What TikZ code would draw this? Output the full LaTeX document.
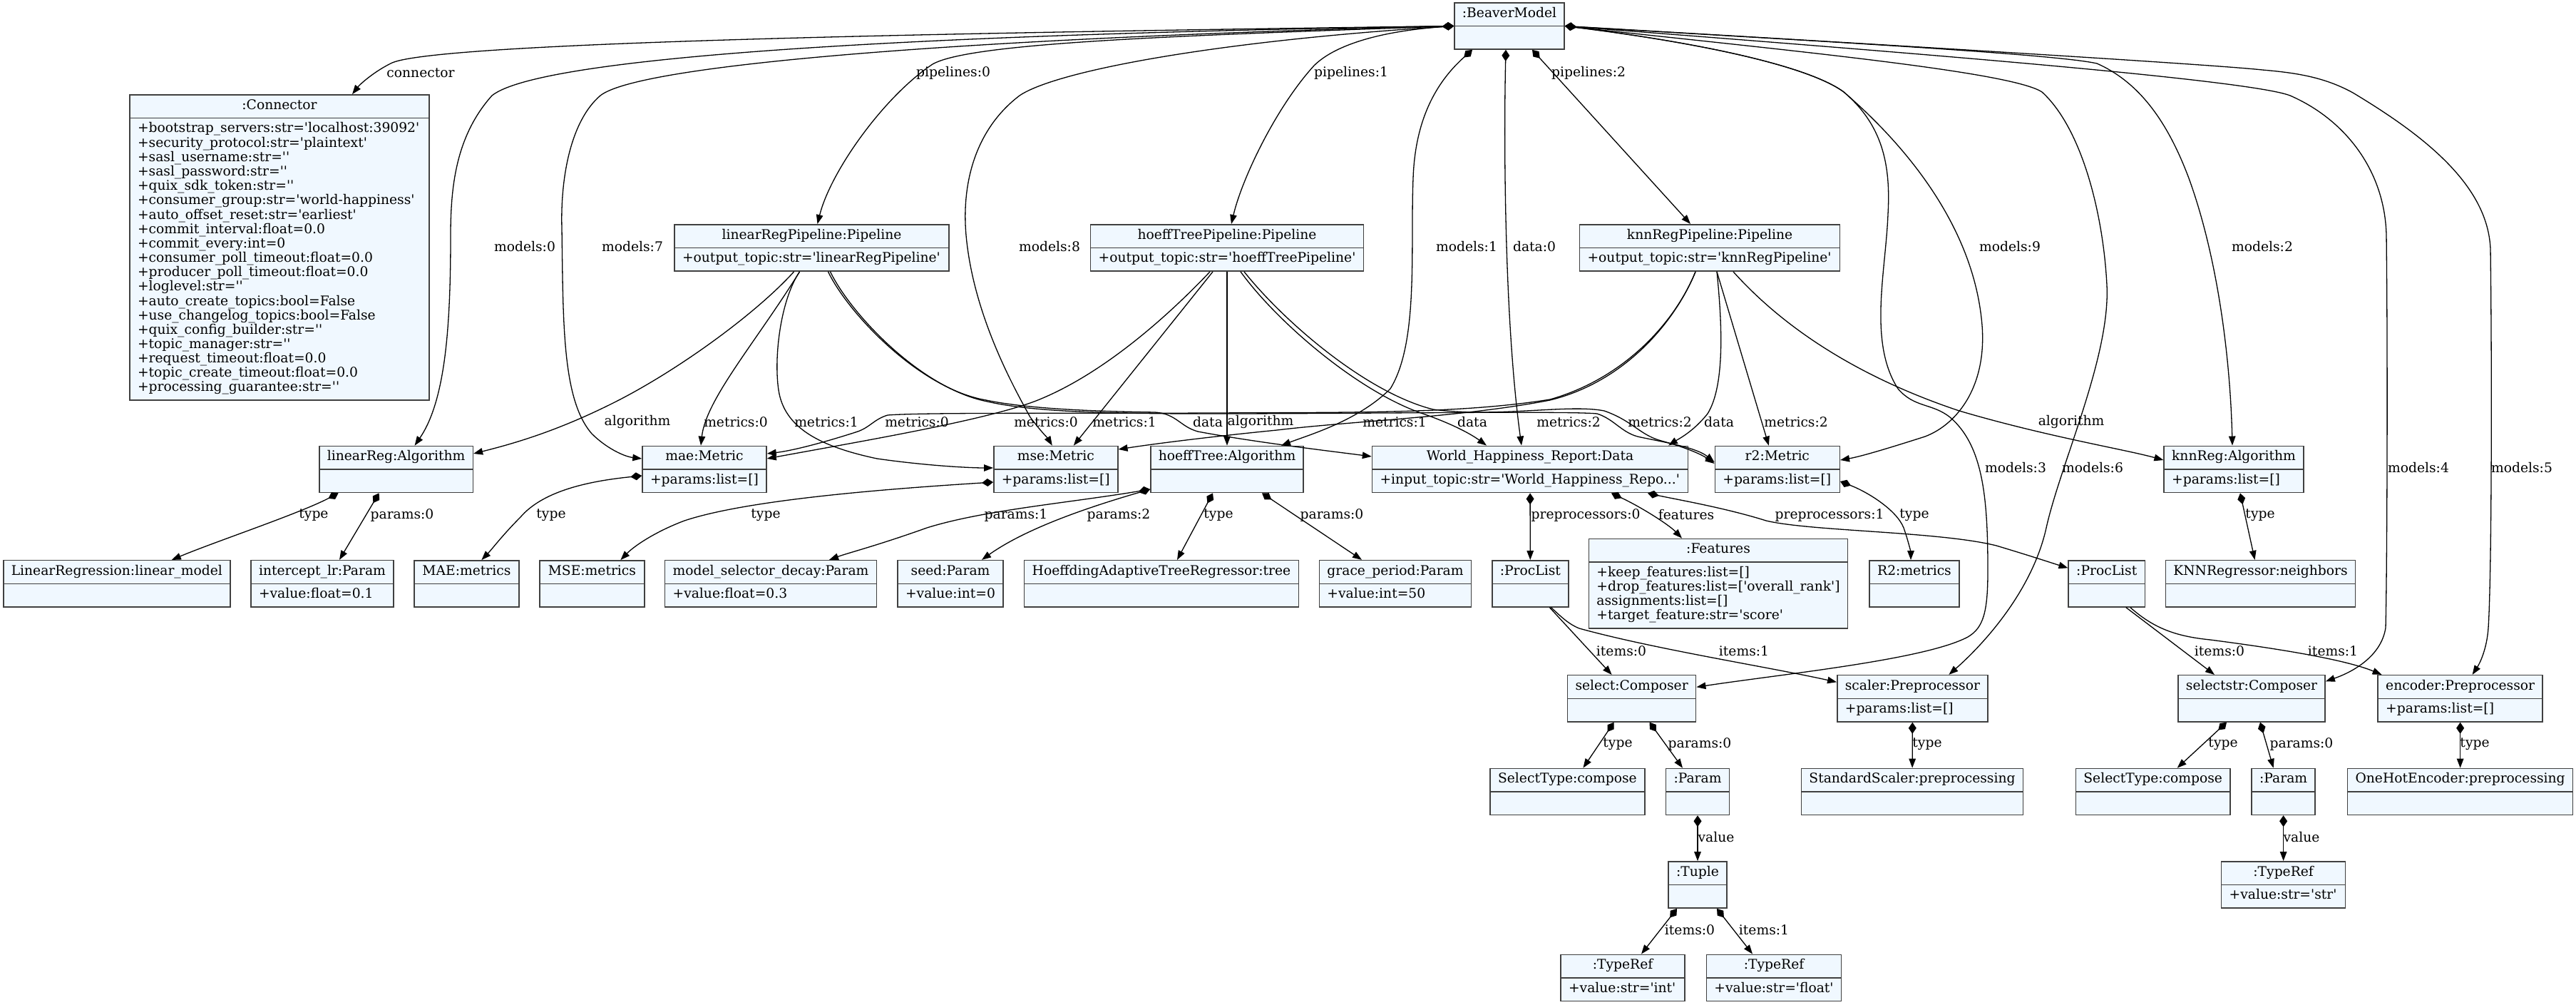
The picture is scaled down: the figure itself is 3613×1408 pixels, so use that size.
\documentclass[tikz,border=0pt]{standalone}
\usepackage{fontspec}
\newfontfamily\dvs{DejaVu Serif}
\usetikzlibrary{shapes.multipart,arrows.meta}
\definecolor{objfill}{RGB}{240,248,255}
\newcommand{\attrs}[1]{\begin{tabular}{@{}l@{}}#1\end{tabular}}

\begin{document}
\begin{tikzpicture}[x=1pt,y=-1pt,
    obj/.style={rectangle split, rectangle split parts=2,
      rectangle split part align={center,left},
      draw=black!75, line width=1.5pt, fill=objfill,
      inner xsep=11pt, inner ysep=5.5pt,
      font=\dvs\fontsize{18.7}{20}\selectfont},
    elab/.style={font=\dvs\fontsize{18.7}{20}\selectfont, inner sep=0pt},
    owns/.style={line width=1.3pt, {Diamond[length=16pt,width=11pt]}-{Triangle[length=13pt,width=9.5pt]}},
    refs/.style={line width=1.3pt, -{Triangle[length=13pt,width=9.5pt]}}]
  \useasboundingbox (0,0) rectangle (3613,1408);

  % objects
  \node[obj, minimum width=154pt] (bm) at (2117,36.5) {\strut:BeaverModel\nodepart{two}\strut};
  \node[obj, minimum width=420pt] (conn) at (392,347) {\strut:Connector\nodepart{two}\attrs{
    +bootstrap\_servers:str='localhost:39092'\\
    +security\_protocol:str='plaintext'\\
    +sasl\_username:str=''\\
    +sasl\_password:str=''\\
    +quix\_sdk\_token:str=''\\
    +consumer\_group:str='world-happiness'\\
    +auto\_offset\_reset:str='earliest'\\
    +commit\_interval:float=0.0\\
    +commit\_every:int=0\\
    +consumer\_poll\_timeout:float=0.0\\
    +producer\_poll\_timeout:float=0.0\\
    +loglevel:str=''\\
    +auto\_create\_topics:bool=False\\
    +use\_changelog\_topics:bool=False\\
    +quix\_config\_builder:str=''\\
    +topic\_manager:str=''\\
    +request\_timeout:float=0.0\\
    +topic\_create\_timeout:float=0.0\\
    +processing\_guarantee:str=''}};
  \node[obj, minimum width=385pt] (linp) at (1138.5,347.5) {\strut linearRegPipeline:Pipeline\nodepart{two}\strut+output\_topic:str='linearRegPipeline'};
  \node[obj, minimum width=382pt] (hoefp) at (1721,347.5) {\strut hoeffTreePipeline:Pipeline\nodepart{two}\strut+output\_topic:str='hoeffTreePipeline'};
  \node[obj, minimum width=365pt] (knnp) at (2398,347.5) {\strut knnRegPipeline:Pipeline\nodepart{two}\strut+output\_topic:str='knnRegPipeline'};

  \node[obj, minimum width=214pt] (lra) at (555.6,658) {\strut linearReg:Algorithm\nodepart{two}\strut};
  \node[obj, minimum width=174pt] (mae) at (988,658) {\strut mae:Metric\nodepart{two}\strut+params:list=[]};
  \node[obj, minimum width=174pt] (mse) at (1480.8,658) {\strut mse:Metric\nodepart{two}\strut+params:list=[]};
  \node[obj, minimum width=213pt] (hta) at (1721,658) {\strut hoeffTree:Algorithm\nodepart{two}\strut};
  \node[obj, minimum width=443pt] (whr) at (2146,658) {\strut World\_Happiness\_Report:Data\nodepart{two}\strut+input\_topic:str='World\_Happiness\_Repo...'};
  \node[obj, minimum width=175pt] (r2) at (2492.8,658) {\strut r2:Metric\nodepart{two}\strut+params:list=[]};
  \node[obj, minimum width=194pt] (kra) at (3133,658) {\strut knnReg:Algorithm\nodepart{two}\strut+params:list=[]};

  \node[obj, minimum width=317pt] (linmod) at (163.8,818.3) {\strut LinearRegression:linear\_model\nodepart{two}\strut};
  \node[obj, minimum width=200pt] (icpt) at (452,818.3) {\strut intercept\_lr:Param\nodepart{two}\strut+value:float=0.1};
  \node[obj, minimum width=147pt] (maem) at (654.4,818.3) {\strut MAE:metrics\nodepart{two}\strut};
  \node[obj, minimum width=147pt] (msem) at (830.4,818.3) {\strut MSE:metrics\nodepart{two}\strut};
  \node[obj, minimum width=296pt] (msd) at (1081,818.3) {\strut model\_selector\_decay:Param\nodepart{two}\strut+value:float=0.3};
  \node[obj, minimum width=148pt] (seed) at (1333,818.3) {\strut seed:Param\nodepart{two}\strut+value:int=0};
  \node[obj, minimum width=383pt] (hatr) at (1629,818.3) {\strut HoeffdingAdaptiveTreeRegressor:tree\nodepart{two}\strut};
  \node[obj, minimum width=211pt] (grace) at (1957,818.3) {\strut grace\_period:Param\nodepart{two}\strut+value:int=50};
  \node[obj, minimum width=106pt] (pl1) at (2146.3,818.3) {\strut:ProcList\nodepart{two}\strut};
  \node[obj, minimum width=362pt] (feat) at (2410,818.3) {\strut:Features\nodepart{two}\attrs{
    +keep\_features:list=[]\\
    +drop\_features:list=['overall\_rank']\\
    assignments:list=[]\\
    +target\_feature:str='score'}};
  \node[obj, minimum width=126pt] (r2m) at (2685,818.3) {\strut R2:metrics\nodepart{two}\strut};
  \node[obj, minimum width=106pt] (pl2) at (2954.7,818.3) {\strut:ProcList\nodepart{two}\strut};
  \node[obj, minimum width=266pt] (knnn) at (3170.5,818.3) {\strut KNNRegressor:neighbors\nodepart{two}\strut};

  \node[obj, minimum width=180pt] (sel) at (2288.6,979.3) {\strut select:Composer\nodepart{two}\strut};
  \node[obj, minimum width=210pt] (scal) at (2682.4,979.3) {\strut scaler:Preprocessor\nodepart{two}\strut+params:list=[]};
  \node[obj, minimum width=206pt] (sels) at (3158,979.3) {\strut selectstr:Composer\nodepart{two}\strut};
  \node[obj, minimum width=230pt] (enc) at (3450.6,979.3) {\strut encoder:Preprocessor\nodepart{two}\strut+params:list=[]};

  \node[obj, minimum width=215pt] (st1) at (2198.4,1110) {\strut SelectType:compose\nodepart{two}\strut};
  \node[obj, minimum width=89pt] (par1) at (2381,1110) {\strut:Param\nodepart{two}\strut};
  \node[obj, minimum width=310pt] (ssp) at (2682,1110) {\strut StandardScaler:preprocessing\nodepart{two}\strut};
  \node[obj, minimum width=215pt] (st2) at (3019.7,1110) {\strut SelectType:compose\nodepart{two}\strut};
  \node[obj, minimum width=89pt] (par2) at (3202.6,1110) {\strut:Param\nodepart{two}\strut};
  \node[obj, minimum width=314pt] (ohe) at (3450.6,1110) {\strut OneHotEncoder:preprocessing\nodepart{two}\strut};

  \node[obj, minimum width=80pt] (tup) at (2381,1240.5) {\strut:Tuple\nodepart{two}\strut};
  \node[obj, minimum width=174pt] (tstr) at (3202.6,1240.5) {\strut:TypeRef\nodepart{two}\strut+value:str='str'};
  \node[obj, minimum width=174pt] (tint) at (2276,1371) {\strut:TypeRef\nodepart{two}\strut+value:str='int'};
  \node[obj, minimum width=189pt] (tflt) at (2488,1371) {\strut:TypeRef\nodepart{two}\strut+value:str='float'};

  % model root, left side
  \draw[owns] (bm.west) .. controls (1400,45) and (620,58) .. (550,88) .. controls (525,100) and (505,118) .. ([xshift=102pt]conn.north);
  \draw[owns] (bm.west) .. controls (1300,48) and (760,78) .. (690,134) .. controls (640,190) and (632,260) .. (632,330) .. controls (632,450) and (626,560) .. ([xshift=26pt]lra.north);
  \draw[owns] (bm.west) .. controls (1400,52) and (900,88) .. (842,134) .. controls (800,170) and (786,250) .. (788,320) .. controls (790,450) and (788,560) .. (830,608) .. controls (850,628) and (875,640) .. ([yshift=15pt]mae.west);
  \draw[owns] (bm.west) .. controls (1650,50) and (1360,60) .. (1308,90) .. controls (1240,135) and (1165,240) .. ([xshift=8pt]linp.north);
  \draw[owns] (bm.west) .. controls (1700,58) and (1480,100) .. (1430,134) .. controls (1372,178) and (1348,250) .. (1355,330) .. controls (1365,440) and (1420,540) .. (1445,585) .. controls (1460,605) and (1470,615) .. ([xshift=-5pt]mse.north);
  \draw[owns] (bm.west) .. controls (1930,44) and (1870,65) .. (1843,92) .. controls (1790,150) and (1742,250) .. ([xshift=6pt]hoefp.north);
  \draw[owns] ([xshift=-52pt]bm.south) .. controls (2020,110) and (1985,160) .. (1982,250) .. controls (1978,350) and (1990,480) .. (1950,545) .. controls (1905,590) and (1835,610) .. ([xshift=76pt]hta.north);
  \draw[owns] ([xshift=-5pt]bm.south) .. controls (2109,200) and (2110,450) .. ([xshift=-12pt]whr.north);
  \draw[owns] ([xshift=32pt]bm.south) -- ([xshift=-27pt]knnp.north);
  % model root, right side
  \draw[owns] (bm.east) .. controls (2400,62) and (2540,95) .. (2586,129) .. controls (2680,210) and (2765,320) .. (2779,446) .. controls (2790,540) and (2745,595) .. (2700,612) .. controls (2650,628) and (2610,640) .. ([yshift=13pt]r2.east);
  \draw[owns] (bm.east) .. controls (2400,62) and (2540,95) .. (2586,129) .. controls (2640,175) and (2652,230) .. (2648,300) .. controls (2645,380) and (2620,480) .. (2662,545) .. controls (2685,572) and (2710,565) .. (2735,585) .. controls (2782,625) and (2788,700) .. (2788,800) .. controls (2788,858) and (2782,880) .. (2760,893) .. controls (2700,925) and (2500,945) .. ([yshift=16pt]sel.east);
  \draw[owns] (bm.east) .. controls (2500,70) and (2820,100) .. (2864,129) .. controls (2920,180) and (2950,300) .. (2955,400) .. controls (2960,500) and (2890,650) .. (2870,740) .. controls (2850,830) and (2780,905) .. ([xshift=51pt]scal.north);
  \draw[owns] (bm.east) .. controls (2500,55) and (2880,75) .. (2941,89) .. controls (3000,115) and (3040,170) .. (3070,250) .. controls (3110,360) and (3128,500) .. ([xshift=-2pt]kra.north);
  \draw[owns] (bm.east) .. controls (2600,68) and (3150,110) .. (3212,134) .. controls (3290,168) and (3345,240) .. (3347,330) .. controls (3349,500) and (3348,800) .. (3346,880) .. controls (3340,920) and (3300,942) .. ([yshift=24pt]sels.east);
  \draw[owns] (bm.east) .. controls (2600,60) and (3100,90) .. (3173,98) .. controls (3220,102) and (3260,108) .. (3300,130) .. controls (3400,190) and (3490,260) .. (3493,350) .. controls (3495,500) and (3495,800) .. (3490,880) .. controls (3488,910) and (3478,930) .. ([xshift=17pt]enc.north);

  % pipelines
  \draw[refs] ([xshift=-25pt]linp.south) .. controls (1060,440) and (950,520) .. (860,565) .. controls (780,605) and (720,622) .. ([yshift=22pt]lra.east);
  \draw[refs] ([xshift=-17pt]linp.south) .. controls (1060,480) and (990,560) .. ([xshift=-5pt]mae.north);
  \draw[refs] ([xshift=-17pt]linp.south) .. controls (1095,420) and (1085,500) .. (1092,547) .. controls (1100,600) and (1150,626) .. (1230,643) .. controls (1300,653) and (1360,656) .. ([yshift=2pt]mse.west);
  \draw[refs] ([xshift=23pt]linp.south) .. controls (1190,440) and (1290,545) .. (1383,561) .. controls (1450,575) and (1560,577) .. (1620,578) .. controls (1650,580) and (1655,598) .. (1680,605) .. controls (1760,620) and (1870,633) .. ([yshift=18pt]whr.west);
  \draw[refs] ([xshift=26pt]linp.south) .. controls (1193,440) and (1292,545) .. (1385,563) .. controls (1450,578) and (1560,580) .. (1700,580) .. controls (1900,580) and (2200,576) .. (2240,580) .. controls (2265,588) and (2275,608) .. (2301,613) .. controls (2340,621) and (2380,628) .. ([yshift=10pt]r2.west);
  \draw[refs] ([xshift=-24pt]hoefp.south) .. controls (1660,420) and (1560,520) .. (1453,562) .. controls (1380,590) and (1200,620) .. ([yshift=15pt]mae.east);
  \draw[refs] ([xshift=-20pt]hoefp.south) -- ([xshift=25pt]mse.north);
  \draw[refs] (hoefp) -- (hta);
  \draw[refs] ([xshift=19pt]hoefp.south) .. controls (1790,450) and (1900,545) .. (1990,578) .. controls (2040,595) and (2065,610) .. ([xshift=-61pt]whr.north);
  \draw[refs] ([xshift=24pt]hoefp.south) .. controls (1800,450) and (1915,550) .. (2010,574) .. controls (2100,586) and (2200,566) .. (2250,576) .. controls (2290,590) and (2300,610) .. (2330,618) .. controls (2360,626) and (2385,636) .. ([yshift=8pt]r2.west);
  \draw[refs] ([xshift=-20pt]knnp.south) .. controls (2350,450) and (2280,530) .. (2174,560) .. controls (2050,580) and (1900,578) .. (1700,579) .. controls (1500,580) and (1300,578) .. (1245,582) .. controls (1225,588) and (1220,600) .. (1200,606) .. controls (1150,622) and (1110,632) .. ([yshift=22pt]mae.east);
  \draw[refs] ([xshift=-20pt]knnp.south) .. controls (2350,450) and (2280,535) .. (2174,561) .. controls (2050,585) and (1900,590) .. (1791,603) .. controls (1700,612) and (1620,622) .. ([yshift=28pt]mse.east);
  \draw[refs] ([xshift=10pt]knnp.south) .. controls (2415,450) and (2420,540) .. (2395,580) .. controls (2375,605) and (2355,615) .. ([xshift=194pt]whr.north);
  \draw[refs] ([xshift=10pt]knnp.south) -- ([xshift=-12pt]r2.north);
  \draw[refs] ([xshift=33pt]knnp.south) .. controls (2520,480) and (2640,540) .. (2748,576) .. controls (2870,612) and (2980,630) .. ([yshift=13pt]kra.west);

  % lower levels
  \draw[owns] ([xshift=-81pt]lra.south) .. controls (420,720) and (300,760) .. ([xshift=77pt]linmod.north);
  \draw[owns] ([xshift=-24pt]lra.south) -- ([xshift=24pt]icpt.north);
  \draw[owns] ([yshift=-9pt]mae.west) .. controls (820,675) and (760,690) .. (730,725) .. controls (705,750) and (690,770) .. ([xshift=21pt]maem.north);
  \draw[owns] ([yshift=-18pt]mse.west) .. controls (1250,685) and (1050,700) .. (960,730) .. controls (920,745) and (890,765) .. ([xshift=40pt]msem.north);
  \draw[owns] ([yshift=-28pt]hta.west) .. controls (1500,705) and (1380,715) .. (1300,740) .. controls (1230,765) and (1190,775) .. ([xshift=82pt]msd.north);
  \draw[owns] ([yshift=-28pt]hta.west) .. controls (1530,710) and (1440,740) .. ([xshift=44pt]seed.north);
  \draw[owns] ([xshift=-20pt]hta.south) -- ([xshift=22pt]hatr.north);
  \draw[owns] ([xshift=49pt]hta.south) -- ([xshift=-47pt]grace.north);
  \draw[owns] (whr) -- (pl1);
  \draw[owns] ([xshift=114pt]whr.south) .. controls (2300,710) and (2340,735) .. ([xshift=-51pt]feat.north);
  \draw[owns] ([xshift=165pt]whr.south) .. controls (2350,700) and (2420,712) .. (2477,730) .. controls (2540,745) and (2720,745) .. (2800,765) .. controls (2850,780) and (2880,790) .. ([yshift=22pt]pl2.west);
  \draw[owns] ([yshift=-17pt]r2.east) .. controls (2620,690) and (2660,715) .. (2670,740) .. controls (2677,760) and (2680,775) .. ([xshift=-5pt]r2m.north);
  \draw[owns] ([xshift=9pt]kra.south) -- ([xshift=-8pt]knnn.north);
  \draw[refs] ([xshift=27pt]pl1.south) -- ([xshift=-28pt]sel.north);
  \draw[refs] ([xshift=29pt]pl1.south) .. controls (2190,865) and (2200,875) .. (2215,881) .. controls (2320,910) and (2480,935) .. ([yshift=23pt]scal.west);
  \draw[owns] ([xshift=-25pt]sel.south) -- ([xshift=22pt]st1.north);
  \draw[owns] ([xshift=25pt]sel.south) -- ([xshift=-21pt]par1.north);
  \draw[owns] (par1) -- (tup);
  \draw[owns] ([xshift=-29pt]tup.south) -- ([xshift=26pt]tint.north);
  \draw[owns] ([xshift=27pt]tup.south) -- ([xshift=-30pt]tflt.north);
  \draw[owns] (scal) -- (ssp);
  \draw[refs] ([xshift=27pt]pl2.south) -- ([xshift=-52pt]sels.north);
  \draw[refs] ([xshift=33pt]pl2.south) .. controls (3020,880) and (3050,892) .. (3100,897) .. controls (3200,910) and (3290,925) .. ([xshift=-110pt]enc.north);
  \draw[owns] ([xshift=-35pt]sels.south) -- ([xshift=34pt]st2.north);
  \draw[owns] ([xshift=12pt]sels.south) -- ([xshift=-14pt]par2.north);
  \draw[owns] (enc) -- (ohe);
  \draw[owns] (par2) -- (tstr);

  % edge labels
  \node[elab] (lconn) at (590,102) {connector};
  \node[elab] (lp0) at (1337,102) {pipelines:0};
  \node[elab] (lp1) at (1895,102) {pipelines:1};
  \node[elab] (lp2) at (2228,102) {pipelines:2};
  \node[elab] (lm0) at (736,346) {models:0};
  \node[elab] (lm7) at (887,346) {models:7};
  \node[elab] (lm8) at (1472,346) {models:8};
  \node[elab] (lm1) at (2057,346) {models:1};
  \node[elab] (ld0) at (2152,346) {data:0};
  \node[elab] (lm9) at (2819,346) {models:9};
  \node[elab] (lm2) at (3173,346) {models:2};
  \node[elab] (lm3) at (2827,656) {models:3};
  \node[elab] (lm6) at (2935,656) {models:6};
  \node[elab] (lm4) at (3392,656) {models:4};
  \node[elab] (lm5) at (3537,656) {models:5};
  \node[elab] (la1) at (894,591.5) {algorithm};
  \node[elab] (lme1) at (1032,591.5) {metrics:0};
  \node[elab] (lme2) at (1159,591.5) {metrics:1};
  \node[elab] (lme3) at (1286,591.5) {metrics:0};
  \node[elab] (lme4) at (1467,591.5) {metrics:0};
  \node[elab] (lme5) at (1577,591.5) {metrics:1};
  \node[elab] (lda1) at (1694,591.5) {data};
  \node[elab] (la2) at (1768,591.5) {algorithm};
  \node[elab] (lme6) at (1956,591.5) {metrics:1};
  \node[elab] (lda2) at (2065,591.5) {data};
  \node[elab] (lme7) at (2200,591.5) {metrics:2};
  \node[elab] (lme8) at (2328,591.5) {metrics:2};
  \node[elab] (lda3) at (2411,591.5) {data};
  \node[elab] (lme9) at (2519,591.5) {metrics:2};
  \node[elab] (la3) at (2905,591.5) {algorithm};
  \node[elab] (lt1) at (440,722) {type};
  \node[elab] (lpa1) at (564,722) {params:0};
  \node[elab] (lt2) at (773,722) {type};
  \node[elab] (lt3) at (1074,722) {type};
  \node[elab] (lpa2) at (1425,722) {params:1};
  \node[elab] (lpa3) at (1569,722) {params:2};
  \node[elab] (lt4) at (1709,722) {type};
  \node[elab] (lpa4) at (1868,722) {params:0};
  \node[elab] (lpr0) at (2224,722) {preprocessors:0};
  \node[elab] (lfe) at (2365,722) {features};
  \node[elab] (lpr1) at (2566,722) {preprocessors:1};
  \node[elab] (lt5) at (2685,722) {type};
  \node[elab] (lt6) at (3170,722) {type};
  \node[elab] (li1) at (2274,913) {items:0};
  \node[elab] (li2) at (2446,913) {items:1};
  \node[elab] (li3) at (3113,913) {items:0};
  \node[elab] (li4) at (3272,913) {items:1};
  \node[elab] (lt7) at (2269,1043) {type};
  \node[elab] (lpa5) at (2384,1043) {params:0};
  \node[elab] (lt8) at (2703,1043) {type};
  \node[elab] (lt9) at (3118,1043) {type};
  \node[elab] (lpa6) at (3228,1043) {params:0};
  \node[elab] (lt10) at (3471,1043) {type};
  \node[elab] (lv1) at (2407,1174) {value};
  \node[elab] (lv2) at (3228,1174) {value};
  \node[elab] (li5) at (2370,1304) {items:0};
  \node[elab] (li6) at (2474,1304) {items:1};
\end{tikzpicture}
\end{document}
